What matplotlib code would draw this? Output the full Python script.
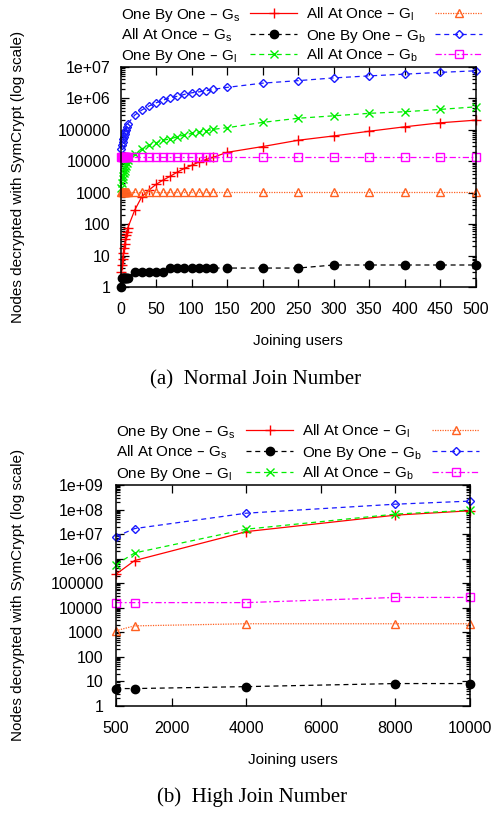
import math
import matplotlib
matplotlib.use('Agg')
import matplotlib.pyplot as plt
from matplotlib.lines import Line2D
from matplotlib.ticker import FuncFormatter, LogLocator, NullFormatter

plt.rcParams['font.family'] = ['Liberation Sans', 'DejaVu Sans']
plt.rcParams['mathtext.default'] = 'regular'

# ---- data: normal join number ----
x_normal = [1, 2, 3, 4, 5, 6, 7, 8, 9, 10, 20, 30, 40, 50, 60, 70, 80, 90, 100, 110,
            120, 130, 150, 200, 250, 300, 350, 400, 450, 500]
obo_gs_normal = [3, 5, 8, 12, 17, 24, 33, 44, 57, 73, 277, 740, 1200, 1820, 2500, 3300,
                 4470, 5900, 7300, 9300, 11200, 13100, 19000, 29000, 46000, 63000, 89000,
                 123000, 165000, 200000]
aao_gs_normal = [1, 2, 2, 2, 2, 2, 2, 2, 2, 2, 3, 3, 3, 3, 3, 4, 4, 4, 4, 4, 4, 4, 4, 4, 4,
                 5, 5, 5, 5, 5]
obo_gl_normal = [1400, 2000, 2700, 3400, 4200, 5000, 6000, 7200, 8800, 10700, 17400, 24500,
                 32000, 38000, 46000, 51000, 59000, 68000, 76000, 83000, 91000, 102000,
                 115000, 170000, 230000, 275000, 330000, 370000, 440000, 530000]
aao_gl_normal = [1050, 1050, 1050, 1050, 1050, 1050, 1050, 1050, 1050, 1050, 1050, 1050,
                 1050, 1050, 1050, 1050, 1050, 1050, 1050, 1050, 1050, 1050, 1050, 1050,
                 1050, 1050, 1050, 1050, 1050, 1050]
obo_gb_normal = [25000, 32000, 40000, 50000, 60000, 72000, 85000, 100000, 120000, 150000,
                 290000, 420000, 560000, 710000, 870000, 1020000, 1150000, 1320000, 1480000,
                 1580000, 1700000, 1900000, 2200000, 3000000, 3600000, 4400000, 5100000,
                 5800000, 6600000, 7400000]
aao_gb_normal = [14000, 14000, 14000, 14000, 14000, 14000, 14000, 14000, 14000, 14000,
                 14000, 14000, 14000, 14000, 14000, 14000, 14000, 14000, 14000, 14000,
                 14000, 14000, 14000, 14000, 14000, 14000, 14000, 14000, 14000, 14000]

# ---- data: high join number ----
x_high = [500, 1000, 4000, 8000, 10000]
obo_gs_high = [230000, 830000, 12600000, 59000000, 89000000]
aao_gs_high = [5, 5, 6, 8, 8]
obo_gl_high = [570000, 1700000, 15800000, 65000000, 94000000]
aao_gl_high = [1150, 1800, 2200, 2200, 2200]
obo_gb_high = [7900000, 16700000, 71000000, 165000000, 220000000]
aao_gb_high = [16000, 16000, 16000, 26000, 26000]

labels = ['One By One – G$_{s}$', 'All At Once – G$_{s}$', 'One By One – G$_{l}$',
          'All At Once – G$_{l}$', 'One By One – G$_{b}$', 'All At Once – G$_{b}$']

# series styles in plot order
styles = [
    dict(color='#ff0000', ls='-', marker='+', ms=7, mew=1.0, mfc='none'),
    dict(color='#000000', ls=(0, (4, 3)), marker='o', ms=6, mew=1.0, mfc='#000000'),
    dict(color='#00ee00', ls=(0, (4, 3)), marker='x', ms=6, mew=1.0, mfc='none'),
    dict(color='#ff6020', ls=(0, (1, 1)), marker='^', ms=6, mew=1.0, mfc='none'),
    dict(color='#1a1aff', ls=(0, (4, 3)), marker='D', ms=4.3, mew=1.0, mfc='none'),
    dict(color='#ff00ff', ls=(0, (5, 2, 1.5, 2)), marker='s', ms=6, mew=1.0, mfc='none'),
]

W, H = 496, 813
fig = plt.figure(figsize=(W / 100, H / 100), dpi=100)


def ylab(v, pos):
    if v >= 1e6:
        return '1e+%02d' % round(math.log10(v))
    return '%d' % round(v)


def make_axes(rect, xs, series, xlim, ymax, xticks, ypad):
    ax = fig.add_axes(rect)
    for ys, st in zip(series, styles):
        ax.plot(xs, ys, lw=0.9, clip_on=False, **st)
    ax.set_yscale('log')
    ax.set_xlim(*xlim)
    ax.set_ylim(1, ymax)
    ax.set_xticks(xticks)
    ax.yaxis.set_major_locator(LogLocator(base=10, numticks=20))
    ax.yaxis.set_minor_locator(LogLocator(base=10, subs=range(2, 10), numticks=20))
    ax.yaxis.set_major_formatter(FuncFormatter(ylab))
    ax.yaxis.set_minor_formatter(NullFormatter())
    ax.tick_params(which='both', direction='in', top=True, right=True, width=0.9,
                   labelsize=11.5)
    ax.tick_params(which='major', length=6)
    ax.tick_params(which='minor', length=3)
    ax.tick_params(axis='x', pad=11)
    ax.tick_params(axis='y', pad=ypad)
    for s in ax.spines.values():
        s.set_linewidth(1.1)
    ax.set_xlabel('Joining users', fontsize=11, labelpad=12)
    return ax


def draw_legend(text_x, hand_x, rows_y):
    for i, (lab, st) in enumerate(zip(labels, styles)):
        r, c = i % 3, i // 3
        y = 1 - rows_y[r] / H
        fig.text(text_x[c] / W, 1 - (rows_y[r] + 5.5) / H, lab, fontsize=11,
                 ha='left', va='baseline')
        x0, x1 = hand_x[c] / W, (hand_x[c] + 47) / W
        fig.add_artist(Line2D([x0, x1], [y, y], color=st['color'], ls=st['ls'], lw=0.9,
                              transform=fig.transFigure))
        m = {k: v for k, v in st.items() if k != 'ls'}
        fig.add_artist(Line2D([(x0 + x1) / 2], [y], ls='none', transform=fig.transFigure, **m))


# (a) normal join number
ax1 = make_axes([120.5 / W, 1 - 287 / H, 355.2 / W, 220.3 / H], x_normal,
                [obo_gs_normal, aao_gs_normal, obo_gl_normal, aao_gl_normal,
                 obo_gb_normal, aao_gb_normal],
                (0, 500), 1e7, list(range(0, 501, 50)), 7)
draw_legend([121, 306], [250, 435], [13.3, 34.3, 54.3])

# (b) high join number
ax2 = make_axes([116 / W, 1 - 705.7 / H, 354 / W, 220.7 / H], x_high,
                [obo_gs_high, aao_gs_high, obo_gl_high, aao_gl_high,
                 obo_gb_high, aao_gb_high],
                (500, 10000), 1e9, [500, 2000, 4000, 6000, 8000, 10000], 9)
draw_legend([116, 302], [246, 432], [430, 451, 472])

# y labels and captions
fig.text(18 / W, 1 - 177 / H, 'Nodes decrypted with SymCrypt (log scale)', rotation=90,
         fontsize=11, ha='center', va='center')
fig.text(18 / W, 1 - 595 / H, 'Nodes decrypted with SymCrypt (log scale)', rotation=90,
         fontsize=11, ha='center', va='center')
fig.text(256 / W, 1 - 380 / H, '(a)  Normal Join Number', fontsize=15,
         family='Liberation Serif', ha='center', va='center')
fig.text(252 / W, 1 - 797 / H, '(b)  High Join Number', fontsize=15,
         family='Liberation Serif', ha='center', va='center')

fig.savefig('out.png', dpi=100)
